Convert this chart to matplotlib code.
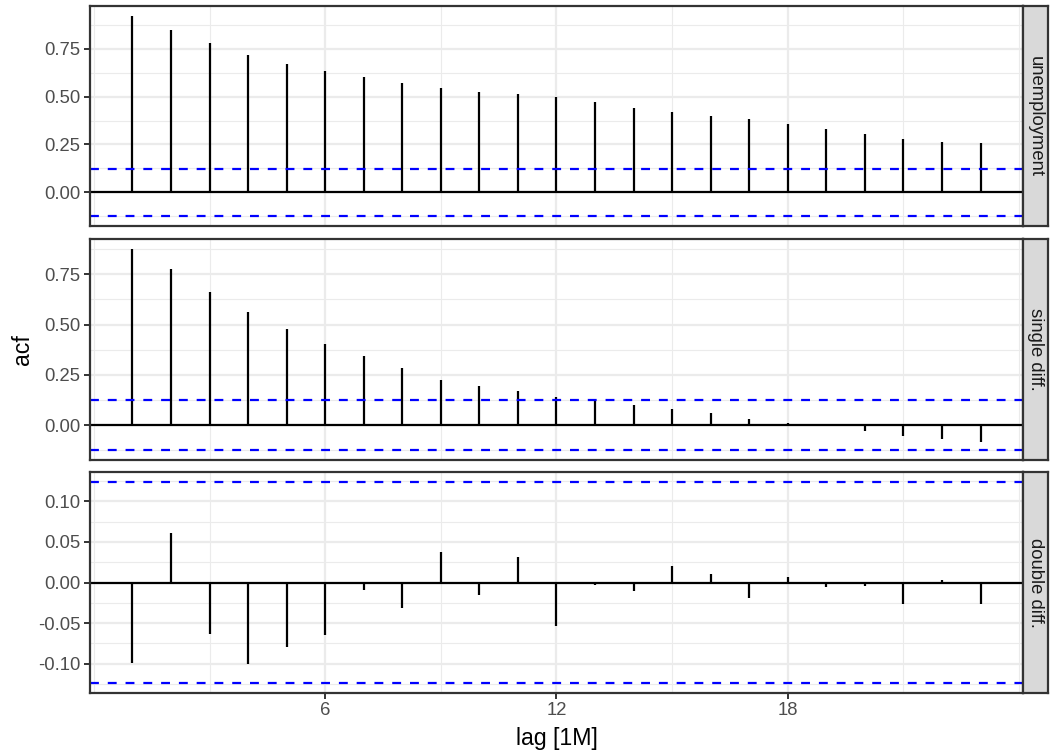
import numpy as np
import matplotlib
import matplotlib.pyplot as plt
from matplotlib.ticker import FixedLocator

matplotlib.use('Agg')

plt.rcParams['font.family'] = ['Liberation Sans', 'DejaVu Sans']

lags = list(range(1, 24))
ci = 0.124

acf_unemployment = [0.922, 0.851, 0.780, 0.717, 0.672, 0.633, 0.601, 0.570, 0.543,
                    0.527, 0.515, 0.499, 0.470, 0.440, 0.418, 0.399, 0.383, 0.357,
                    0.333, 0.303, 0.278, 0.265, 0.257]
acf_single = [0.876, 0.778, 0.664, 0.561, 0.476, 0.403, 0.342, 0.284, 0.222,
              0.196, 0.171, 0.141, 0.119, 0.100, 0.081, 0.058, 0.031, 0.012,
              -0.004, -0.031, -0.053, -0.068, -0.083]
acf_double = [-0.0988, 0.0605, -0.0638, -0.100, -0.0795, -0.0654, -0.0095, -0.0317,
              0.0374, -0.0153, 0.0316, -0.0536, -0.0025, -0.0107, 0.0201, 0.0111,
              -0.019, 0.0065, -0.0054, -0.004, -0.026, 0.003, -0.0268]

panel_names = ['unemployment', 'single diff.', 'double diff.']
panel_values = [acf_unemployment, acf_single, acf_double]
y_majors = [[0, 0.25, 0.5, 0.75], [0, 0.25, 0.5, 0.75], [-0.1, -0.05, 0, 0.05, 0.1]]
y_labels = [['0.00', '0.25', '0.50', '0.75'], ['0.00', '0.25', '0.50', '0.75'],
            ['-0.10', '-0.05', '0.00', '0.05', '0.10']]

x_majors = [6, 12, 18]
x_minors = [0, 3, 9, 15, 21, 24]

W, H = 1051, 755
fig = plt.figure(figsize=(W / 100, H / 100), dpi=100)

left, right, strip_right = 90, 1023, 1048
panel_spans = [(6, 226), (239, 460), (472, 693)]

grid_col = '#EBEBEB'
border_col = '#333333'
tick_text = '#4D4D4D'

for i, (name, vals) in enumerate(zip(panel_names, panel_values)):
    top, bottom = panel_spans[i]
    rect = [left / W, 1 - bottom / H, (right - left) / W, (bottom - top) / H]
    ax = fig.add_axes(rect)

    lo = min(min(vals), -ci)
    hi = max(max(vals), ci)
    pad = 0.05 * (hi - lo)
    ax.set_ylim(lo - pad, hi + pad)
    xpad = 0.05 * (lags[-1] - lags[0])
    ax.set_xlim(lags[0] - xpad, lags[-1] + xpad)

    majors = y_majors[i]
    step = majors[1] - majors[0]
    minors = [m - step / 2 for m in majors] + [majors[-1] + step / 2]
    minors = [m for m in minors if lo - pad < m < hi + pad]

    # grid lines
    for m in minors:
        ax.axhline(m, color=grid_col, lw=0.8, zorder=0)
    for m in majors:
        ax.axhline(m, color=grid_col, lw=1.6, zorder=0)
    for m in x_minors:
        ax.axvline(m, color=grid_col, lw=0.8, zorder=0)
    for m in x_majors:
        ax.axvline(m, color=grid_col, lw=1.6, zorder=0)

    # acf spikes
    ax.vlines(lags, 0, vals, color='black', lw=1.6, zorder=3)
    ax.axhline(0, color='black', lw=1.6, zorder=3)
    ax.axhline(ci, color='blue', lw=1.6, ls=(0, (4, 4)), zorder=4)
    ax.axhline(-ci, color='blue', lw=1.6, ls=(0, (4, 4)), zorder=4)

    ax.yaxis.set_major_locator(FixedLocator(majors))
    ax.set_yticklabels(y_labels[i])
    ax.xaxis.set_major_locator(FixedLocator(x_majors))
    ax.tick_params(axis='both', length=4.2, width=1.4, color=border_col,
                   labelsize=13.3, labelcolor=tick_text, pad=2.5)
    if i < 2:
        ax.tick_params(axis='x', bottom=False, labelbottom=False)
    for s in ax.spines.values():
        s.set_color(border_col)
        s.set_linewidth(1.6)
        s.set_zorder(5)

    # facet strip
    srect = [right / W, 1 - bottom / H, (strip_right - right) / W, (bottom - top) / H]
    sax = fig.add_axes(srect)
    sax.set_facecolor('#D9D9D9')
    sax.set_xticks([])
    sax.set_yticks([])
    for s in sax.spines.values():
        s.set_color(border_col)
        s.set_linewidth(1.6)
    sax.text(0.5, 0.5, name, rotation=-90, ha='center', va='center',
             fontsize=13.3, color='#1A1A1A', transform=sax.transAxes)

fig.text(22 / W, 1 - 350 / H, 'acf', rotation=90, ha='center', va='center',
         fontsize=16.7, color='black')
fig.text((left + right) / 2 / W, 1 - 739 / H, 'lag [1M]', ha='center', va='center',
         fontsize=16.7, color='black')

fig.savefig('out.png', dpi=100)
